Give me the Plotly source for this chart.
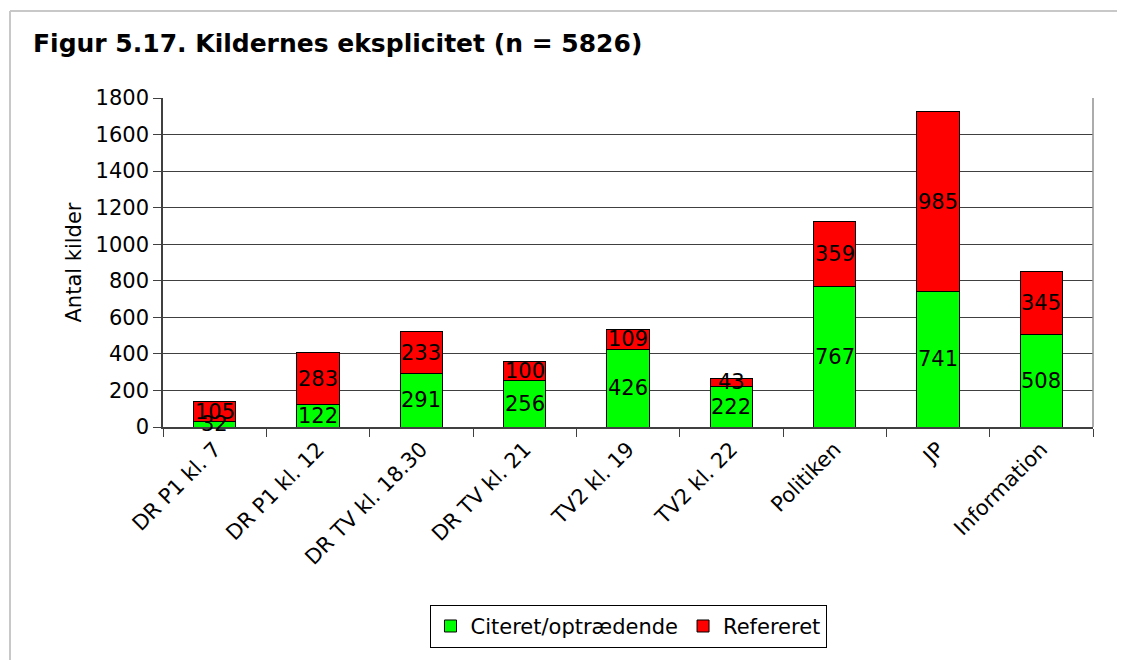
import plotly.graph_objects as go

# data
categories = ["DR P1 kl. 7", "DR P1 kl. 12", "DR TV kl. 18.30", "DR TV kl. 21",
              "TV2 kl. 19", "TV2 kl. 22", "Politiken", "JP", "Information"]
citeret = [32, 122, 291, 256, 426, 222, 767, 741, 508]
refereret = [105, 283, 233, 100, 109, 43, 359, 985, 345]

FONT = "DejaVu Sans"
FS = 21

# page has an 8px body margin, so the figure is drawn 8px smaller/offset
OFF = 8
L, R, T, B = 163, 1093, 98, 431
W, H = 1125 - OFF, 660 - OFF


def px(x):
    return (x - L) / (R - L)


def py(y):
    return (B - y) / (B - T)


fig = go.Figure()
fig.add_trace(go.Bar(x=categories, y=citeret, name="Citeret/optrædende",
                     marker=dict(color="#00FF00", line=dict(color="black", width=1))))
fig.add_trace(go.Bar(x=categories, y=refereret, name="Refereret",
                     marker=dict(color="#FF0000", line=dict(color="black", width=1))))

# data labels centered in each segment (Excel style)
annots = []
for c, g, r in zip(categories, citeret, refereret):
    annots.append(dict(x=c, y=g / 2, text=str(g), showarrow=False, xref="x", yref="y",
                       font=dict(size=FS, color="black", family=FONT)))
    annots.append(dict(x=c, y=g + r / 2, text=str(r), showarrow=False, xref="x", yref="y",
                       font=dict(size=FS, color="black", family=FONT)))

# title
annots.append(dict(text="<b>Figur 5.17. Kildernes eksplicitet (n = 5826)</b>", showarrow=False,
                   xref="paper", yref="paper", x=px(31), y=py(43),
                   xanchor="left", yanchor="middle", font=dict(size=25, color="black", family=FONT)))

fig.update_layout(
    width=W, height=H, barmode="stack", bargap=0.59,
    paper_bgcolor="white", plot_bgcolor="white",
    margin=dict(l=L - OFF, r=W + OFF - R, t=T - OFF, b=H + OFF - B),
    font=dict(family=FONT, size=FS, color="black"),
    annotations=annots,
    showlegend=True,
    legend=dict(orientation="h", x=0.5, xanchor="center", y=py(611), yanchor="top",
                bordercolor="black", borderwidth=1, font=dict(size=FS, family=FONT),
                itemwidth=30, traceorder="normal"),
    shapes=[
        # outer frame
        dict(type="line", xref="paper", yref="paper", x0=px(10), x1=px(10),
             y0=py(10), y1=py(670), line=dict(color="#c8c8c8", width=2)),
        dict(type="line", xref="paper", yref="paper", x0=px(10), x1=px(1140),
             y0=py(10), y1=py(10), line=dict(color="#c8c8c8", width=2)),
        # right border of plot area
        dict(type="line", xref="paper", yref="paper", x0=1, x1=1, y0=0, y1=1,
             line=dict(color="#909090", width=1.5)),
    ],
)
fig.update_yaxes(range=[0, 1800], dtick=200, showgrid=True, gridcolor="#404040", gridwidth=1,
                 showline=True, linecolor="#404040", linewidth=1.5, ticks="outside", ticklen=8,
                 tickcolor="#404040", zeroline=False,
                 title=dict(text="Antal kilder", font=dict(size=FS, family=FONT), standoff=8))
fig.update_xaxes(tickangle=-45, showline=True, linecolor="#404040", linewidth=1.5,
                 ticks="outside", tickson="boundaries", ticklen=8, tickcolor="#404040")

fig.write_html("out.html")
